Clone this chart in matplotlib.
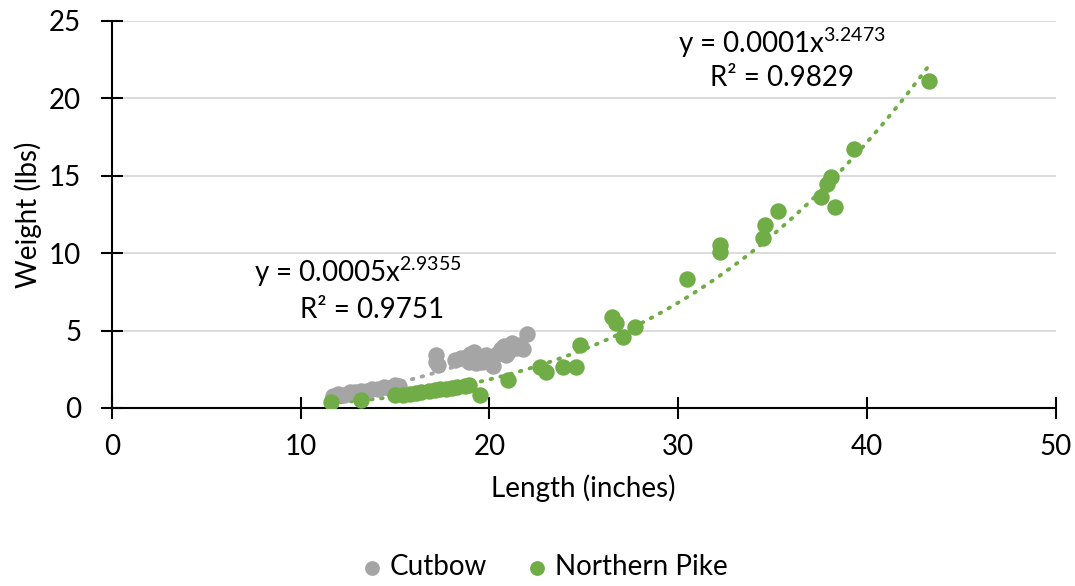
import numpy as np
import matplotlib.pyplot as plt

plt.rcParams['font.family'] = ['Lato', 'DejaVu Sans']
plt.rcParams['mathtext.fontset'] = 'custom'
plt.rcParams['mathtext.rm'] = 'Lato'
plt.rcParams['mathtext.it'] = 'Lato'

# Cutbow: length (in), weight (lbs)
cut_len = [11.7, 12.0, 12.3, 12.6, 12.9, 13.2, 13.5, 13.8, 14.1, 14.4, 14.7, 15.0, 15.2,
           17.2, 17.3, 17.2, 18.2, 18.5, 18.8, 18.9, 19.0, 19.2, 19.3, 19.4, 19.6, 19.8,
           20.0, 20.2, 20.4, 20.6, 20.8, 20.9, 21.0, 21.2, 21.4, 21.6, 21.8, 22.0]
cut_wt = [0.8, 0.9, 0.85, 1.0, 1.05, 1.1, 1.1, 1.2, 1.25, 1.35, 1.3, 1.5, 1.45,
          3.4, 2.8, 3.0, 3.1, 3.2, 3.3, 3.0, 3.5, 3.6, 2.9, 3.3, 3.0, 3.4,
          3.2, 2.7, 3.5, 3.8, 4.0, 3.4, 3.6, 4.2, 3.9, 4.1, 3.8, 4.8]

# Northern Pike
pike_len = [11.6, 13.2, 15.0, 15.4, 15.8, 16.1, 16.4, 16.8, 17.1, 17.4, 17.7, 18.0, 18.3,
            18.7, 18.9, 19.5, 21.0, 22.7, 23.0, 23.9, 24.6, 24.8, 26.5, 26.7, 27.1, 27.7,
            30.45, 32.2, 32.2, 34.5, 34.6, 35.3, 37.55, 37.9, 38.1, 38.3, 39.3, 43.3]
pike_wt = [0.4, 0.52, 0.85, 0.85, 0.9, 0.95, 1.0, 1.1, 1.15, 1.2, 1.25, 1.3, 1.35,
           1.45, 1.5, 0.85, 1.8, 2.65, 2.3, 2.65, 2.65, 4.07, 5.9, 5.5, 4.6, 5.2,
           8.3, 10.5, 10.1, 11.0, 11.8, 12.7, 13.6, 14.5, 14.9, 13.0, 16.7, 21.1]

gray = '#A5A5A5'
green = '#70AD47'
fs = 20

fig = plt.figure(figsize=(10.75, 5.86), dpi=100)
ax = fig.add_axes([0.104, 0.3038, 0.878, 0.6604])


def power_fit(x, y):
    x = np.array(x)
    y = np.array(y)
    b, lna = np.polyfit(np.log(x), np.log(y), 1)
    xs = np.linspace(x.min(), x.max(), 200)
    return xs, np.exp(lna) * xs ** b


for lx, wy, c, lab in [(cut_len, cut_wt, gray, 'Cutbow'), (pike_len, pike_wt, green, 'Northern Pike')]:
    ax.scatter(lx, wy, s=140, color=c, label=lab, zorder=3, linewidths=0)
    xs, ys = power_fit(lx, wy)
    ax.plot(xs, ys, color=c, lw=2.8, linestyle=(0, (0.4, 2.2)), dash_capstyle='round', zorder=2)

ax.text(13.0, 8.8, r'y = 0.0005x$^{2.9355}$', ha='center', va='center', fontsize=fs)
ax.text(13.8, 6.3, 'R² = 0.9751', ha='center', va='center', fontsize=fs)
ax.text(35.5, 23.6, r'y = 0.0001x$^{3.2473}$', ha='center', va='center', fontsize=fs)
ax.text(35.5, 21.3, 'R² = 0.9829', ha='center', va='center', fontsize=fs)

ax.set_xlim(0, 50)
ax.set_ylim(0, 25)
ax.set_xticks(range(0, 51, 10))
ax.set_yticks(range(0, 26, 5))
ax.grid(axis='y', color='#D9D9D9', lw=1.3)
ax.set_axisbelow(True)
for s in ['top', 'right']:
    ax.spines[s].set_visible(False)
for s in ['left', 'bottom']:
    ax.spines[s].set_linewidth(1.5)
ax.tick_params(direction='inout', length=16, width=1.5, labelsize=fs)
ax.tick_params(axis='y', pad=14)
ax.tick_params(axis='x', pad=11)
ax.set_xlabel('Length (inches)', fontsize=fs, labelpad=10)
ax.set_ylabel('Weight (lbs)', fontsize=fs, labelpad=5)

fig.legend(loc='lower center', bbox_to_anchor=(0.505, -0.033), ncol=2, frameon=False,
           fontsize=fs, handlelength=1.0, handletextpad=0.15, columnspacing=1.3,
           markerscale=0.9)

fig.savefig('out.png', dpi=100)
